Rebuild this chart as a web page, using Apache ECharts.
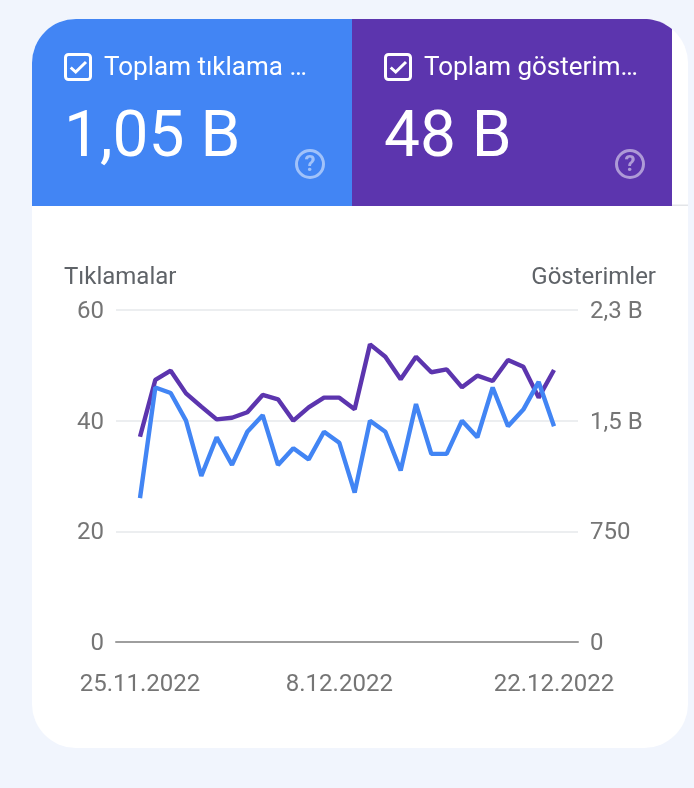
<!DOCTYPE html>
<html><head><meta charset="utf-8">
<style>html,body{margin:0;padding:0;background:#f1f5fd}#c{width:694px;height:788px}</style>
<script src="https://cdn.jsdelivr.net/npm/echarts@6/dist/echarts.min.js"></script>
</head><body><div id="c"></div>
<script>
const dates = ['25.11.2022','26.11.2022','27.11.2022','28.11.2022','29.11.2022','30.11.2022','1.12.2022','2.12.2022','3.12.2022','4.12.2022','5.12.2022','6.12.2022','7.12.2022','8.12.2022','9.12.2022','10.12.2022','11.12.2022','12.12.2022','13.12.2022','14.12.2022','15.12.2022','16.12.2022','17.12.2022','18.12.2022','19.12.2022','20.12.2022','21.12.2022','22.12.2022'];
const clicks = [26,46,45,40,30,37,32,38,41,32,35,33,38,36,27,40,38,31,43,34,34,40,37,46,39,42,47,39];
const impressions = [1391,1776,1839,1685,1595,1509,1520,1557,1674,1645,1500,1590,1656,1656,1577,2017,1933,1780,1933,1828,1848,1726,1805,1769,1911,1866,1656,1843];
const xLabelIdx = [0,13,27];
const rightTickLabels = {0:'0',750:'750',1500:'1,5 B',2250:'2,3 B'};
const BLUE='#4285f4', PURPLE='#5c35ae', FONT='Roboto';

function checkbox(x,y){return [
 {type:'rect',z:5,shape:{x:x+1.5,y:y+1.5,width:25,height:25,r:3},style:{fill:'none',stroke:'#fff',lineWidth:3}},
 {type:'polyline',z:5,shape:{points:[[x+6.7,y+14.5],[x+11.7,y+19],[x+22,y+9]]},style:{fill:'none',stroke:'#fff',lineWidth:3}}
];}
function help(cx,cy){return [
 {type:'circle',z:5,shape:{cx:cx,cy:cy,r:13.5},style:{fill:'none',stroke:'rgba(255,255,255,0.5)',lineWidth:3}},
 {type:'text',z:5,style:{x:cx,y:cy+1,text:'?',align:'center',verticalAlign:'middle',font:'bold 22px '+FONT,fill:'rgba(255,255,255,0.5)'}}
];}
function txt(x,y,text,size,align){return {type:'text',z:5,style:{x:x,y:y,text:text,align:align||'left',verticalAlign:'middle',font:size+'px '+FONT,fill:'#fff'}};}
function purpleTile(){
 const pts=[[352,206],[352,19]], R=44, cx=644, cy=63;
 for(let a=0;a<=10;a++){const dx=a*2.8; pts.push([cx+dx,cy-Math.sqrt(R*R-dx*dx)]);}
 pts.push([672,206]);
 return pts;
}

const chart = echarts.init(document.getElementById('c'),null,{width:694,height:788});
chart.setOption({
 animation:false,
 backgroundColor:'#f1f5fd',
 textStyle:{fontFamily:FONT},
 graphic:[
  {type:'rect',z:0,shape:{x:32,y:19,width:656,height:729,r:44},style:{fill:'#fff'}},
  {type:'rect',z:1,shape:{x:672,y:204.5,width:16,height:1.5},style:{fill:'#e3e5e8'}},
  {type:'rect',z:1,shape:{x:32,y:19,width:320,height:187,r:[44,0,0,0]},style:{fill:BLUE}},
  {type:'polygon',z:1,shape:{points:purpleTile()},style:{fill:PURPLE}},
  ...checkbox(64,53),...checkbox(384,53),
  txt(104,68,'Toplam tıklama …',26),
  txt(424,68,'Toplam gösterim…',26),
  txt(64,140,'1,05 B',64),
  txt(384,140,'48 B',64),
  ...help(310,164),...help(630,164)
 ],
 grid:{left:116,right:116,top:310,bottom:146},
 xAxis:{type:'value',min:-1.565,max:28.565,
  splitLine:{show:false},axisTick:{show:false},
  axisLine:{show:true,onZero:false,lineStyle:{color:'#9e9e9e',width:2}},
  axisLabel:{customValues:xLabelIdx,formatter:v=>dates[v],color:'#757575',fontSize:24,fontFamily:FONT,margin:31,showMinLabel:true,showMaxLabel:true}},
 yAxis:[
  {type:'value',min:0,max:60,interval:20,name:'Tıklamalar',nameLocation:'end',nameGap:20,
   nameTextStyle:{color:'#5f6368',fontSize:24,fontFamily:FONT,align:'left',padding:[0,0,0,-76]},
   axisLine:{show:false},axisTick:{show:false},
   splitLine:{lineStyle:{color:'#eceef0',width:2}},
   axisLabel:{color:'#757575',fontSize:24,fontFamily:FONT,margin:12,verticalAlign:'top',lineHeight:4}},
  {type:'value',min:0,max:2250,interval:750,position:'right',name:'Gösterimler',nameLocation:'end',nameGap:20,
   nameTextStyle:{color:'#5f6368',fontSize:24,fontFamily:FONT,align:'right',padding:[0,-78,0,0]},
   axisLine:{show:false},axisTick:{show:false},splitLine:{show:false},
   axisLabel:{color:'#757575',fontSize:24,fontFamily:FONT,margin:12,verticalAlign:'top',lineHeight:4,formatter:v=>rightTickLabels[v]}}
 ],
 series:[
  {name:'Gösterimler',type:'line',yAxisIndex:1,symbol:'none',data:impressions.map((v,i)=>[i,v]),lineStyle:{color:PURPLE,width:4.4},itemStyle:{color:PURPLE}},
  {name:'Tıklamalar',type:'line',yAxisIndex:0,symbol:'none',data:clicks.map((v,i)=>[i,v]),lineStyle:{color:BLUE,width:4.4},itemStyle:{color:BLUE}}
 ]
});
</script></body></html>
